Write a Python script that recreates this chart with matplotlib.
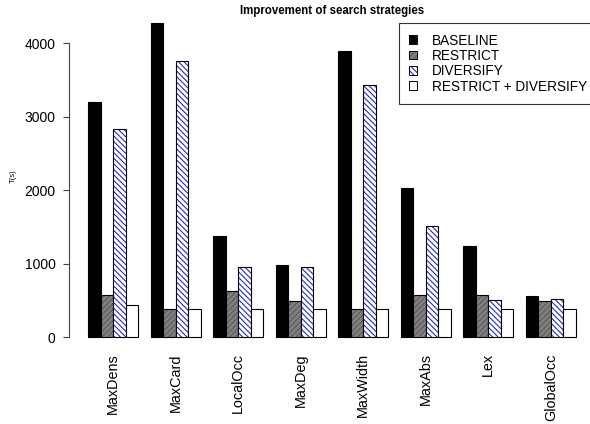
import numpy as np
import matplotlib.pyplot as plt
from matplotlib.patches import Patch

plt.rcParams['font.family'] = ['Liberation Sans', 'DejaVu Sans']
plt.rcParams['hatch.linewidth'] = 0.8

# values (seconds)
heuristics = ['MaxDens', 'MaxCard', 'LocalOcc', 'MaxDeg', 'MaxWidth', 'MaxAbs', 'Lex', 'GlobalOcc']
series = ['BASELINE', 'RESTRICT', 'DIVERSIFY', 'RESTRICT + DIVERSIFY']
baseline = [3195, 4270, 1375, 985, 3895, 2025, 1240, 560]
restrict = [570, 385, 630, 500, 385, 570, 570, 498]
diversify = [2835, 3760, 950, 960, 3430, 1520, 505, 525]
restrict_diversify = [445, 385, 385, 385, 385, 385, 385, 385]

values = [baseline, restrict, diversify, restrict_diversify]
fills = ['black', '#808080', 'white', 'white']
hatch_cols = ['black', '#5a5a5a', '#2a2ab8', 'white']
hatches = [None, '//////', '\\\\\\\\\\\\', None]

fig = plt.figure(figsize=(5.9, 4.24), dpi=100)
ax = fig.add_axes([68.8 / 590, 1 - 349.9 / 424, (595.3 - 68.8) / 590, 0.8])

n = len(heuristics)
group_start = np.arange(n) * 5 + 1
handles = []
for j, (vals, fc, hc, h) in enumerate(zip(values, fills, hatch_cols, hatches)):
    xs = group_start + j + 0.5
    if h:
        ax.bar(xs, vals, width=1, color=fc, edgecolor=hc, hatch=h, linewidth=0)
    ax.bar(xs, vals, width=1, facecolor=fc if not h else 'none',
           edgecolor='black', linewidth=0.8)
    p1 = Patch(facecolor=fc, edgecolor=hc, hatch=h, linewidth=0)
    p2 = Patch(facecolor='none', edgecolor='black', linewidth=0.7)
    handles.append((p1, p2))

ax.set_xlim(-0.56, 41.56)
ax.set_ylim(-171, 4443)
for s in ['top', 'right', 'bottom']:
    ax.spines[s].set_visible(False)
ax.spines['left'].set_bounds(0, 4000)
ax.spines['left'].set_color('#444444')
ax.spines['left'].set_linewidth(0.8)
ax.set_yticks([0, 1000, 2000, 3000, 4000])
ax.tick_params(axis='y', length=4.5, width=0.8, color='#444444', pad=5, labelsize=10)
ax.set_xticks(group_start + 2)
ax.set_xticklabels(heuristics, rotation=90, fontsize=10.4, va='top')
ax.tick_params(axis='x', length=0, pad=2.5)

fig.text(332 / 590, 1 - 13.6 / 424, 'Improvement of search strategies',
         ha='center', va='baseline', fontsize=8.3, fontweight='bold')
fig.text(13 / 590, 1 - 176 / 424, 'T(s)', rotation=90, ha='center', va='center', fontsize=5.5)

leg = ax.legend(handles, series, loc='upper left',
                bbox_to_anchor=(399 / 590, 1 - 23.3 / 424), bbox_transform=fig.transFigure,
                borderaxespad=0, fontsize=9.8, frameon=True, fancybox=False,
                handlelength=0.6, handleheight=0.6, handletextpad=1.1,
                labelspacing=0.1, borderpad=0.75)
leg.get_frame().set_edgecolor('black')
leg.get_frame().set_linewidth(0.8)

fig.savefig('out.png', dpi=100)
